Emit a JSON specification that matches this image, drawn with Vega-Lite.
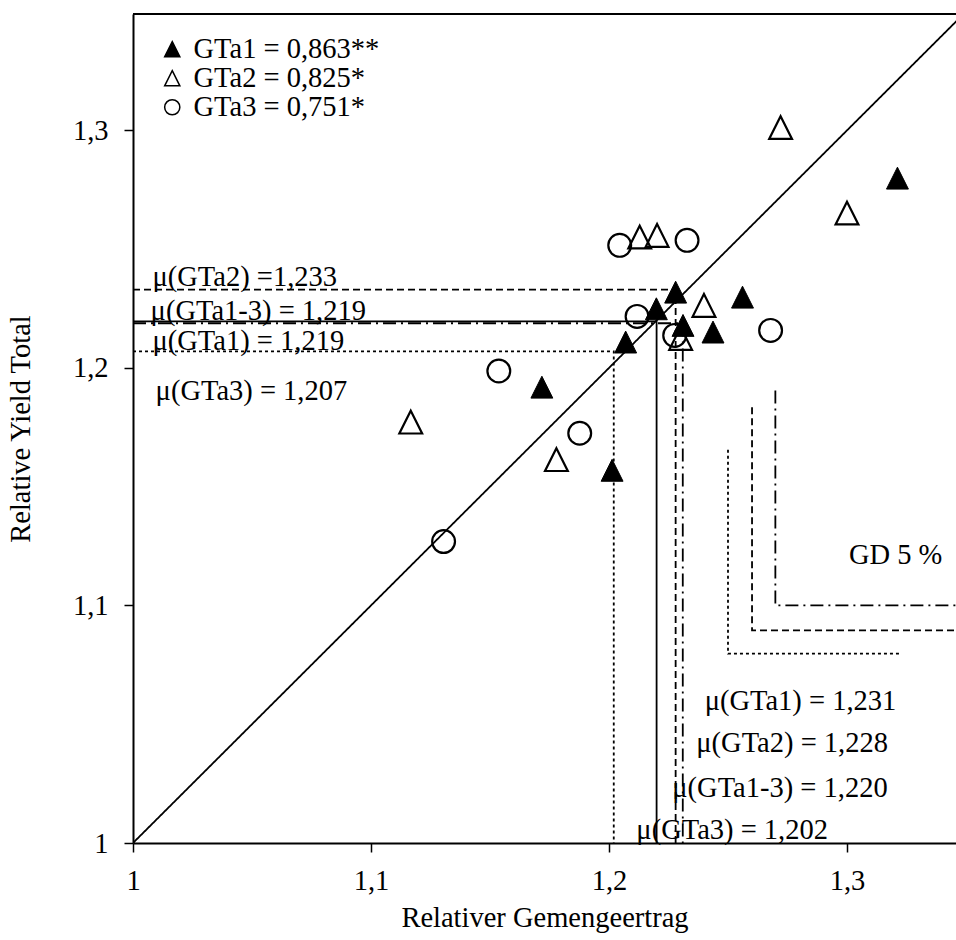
{
  "$schema": "https://vega.github.io/schema/vega-lite/v6.json",
  "width": 823,
  "height": 829,
  "autosize": {"type": "none"},
  "padding": {"left": 133, "top": 14, "right": 0, "bottom": 97},
  "background": "white",
  "config": {
    "view": {"stroke": null},
    "axis": {
      "grid": false,
      "domainColor": "black",
      "domainWidth": 2,
      "tickColor": "black",
      "tickWidth": 1.5,
      "tickSize": 9,
      "labelFont": "Liberation Serif",
      "labelFontSize": 28.5,
      "labelColor": "black",
      "titleFont": "Liberation Serif",
      "titleFontSize": 28.5,
      "titleFontWeight": "normal",
      "titleColor": "black"
    },
    "legend": {
      "orient": "none", "legendX": 25, "legendY": 21, "title": null,
      "labelFont": "Liberation Serif", "labelFontSize": 28.5, "labelColor": "black", "labelLimit": 0,
      "symbolSize": 230, "symbolStrokeWidth": 1.5, "symbolOpacity": 1,
      "rowPadding": -1.5, "labelOffset": 7, "padding": 0
    },
    "text": {"font": "Liberation Serif", "fontSize": 28.5, "color": "black"}
  },
  "datasets": {
    "points": [
      {"group": "GTa1", "x": 1.1718, "y": 1.1919},
      {"group": "GTa1", "x": 1.2013, "y": 1.1569},
      {"group": "GTa1", "x": 1.2070, "y": 1.2109},
      {"group": "GTa1", "x": 1.2199, "y": 1.2249},
      {"group": "GTa1", "x": 1.2280, "y": 1.2319},
      {"group": "GTa1", "x": 1.2311, "y": 1.2179},
      {"group": "GTa1", "x": 1.2437, "y": 1.2151},
      {"group": "GTa1", "x": 1.2561, "y": 1.2298},
      {"group": "GTa1", "x": 1.3212, "y": 1.2799},
      {"group": "GTa2", "x": 1.1167, "y": 1.1772},
      {"group": "GTa2", "x": 1.1779, "y": 1.1614},
      {"group": "GTa2", "x": 1.2129, "y": 1.2551},
      {"group": "GTa2", "x": 1.2202, "y": 1.2558},
      {"group": "GTa2", "x": 1.2399, "y": 1.2263},
      {"group": "GTa2", "x": 1.2301, "y": 1.2124},
      {"group": "GTa2", "x": 1.2721, "y": 1.3012},
      {"group": "GTa2", "x": 1.3000, "y": 1.2652},
      {"group": "GTa3", "x": 1.1305, "y": 1.1269},
      {"group": "GTa3", "x": 1.1537, "y": 1.1987},
      {"group": "GTa3", "x": 1.1877, "y": 1.1725},
      {"group": "GTa3", "x": 1.2045, "y": 1.2516},
      {"group": "GTa3", "x": 1.2118, "y": 1.2217},
      {"group": "GTa3", "x": 1.2276, "y": 1.2137},
      {"group": "GTa3", "x": 1.2328, "y": 1.2537},
      {"group": "GTa3", "x": 1.2679, "y": 1.2158}
    ],
    "lines": [
      {"id": "mean GTa1", "style": "dashdot", "o": 1, "x": 1, "y": 1.2188},
      {"id": "mean GTa1", "style": "dashdot", "o": 2, "x": 1.231, "y": 1.2188},
      {"id": "mean GTa1", "style": "dashdot", "o": 3, "x": 1.231, "y": 1},
      {"id": "mean GTa2", "style": "dashed", "o": 1, "x": 1, "y": 1.233},
      {"id": "mean GTa2", "style": "dashed", "o": 2, "x": 1.228, "y": 1.233},
      {"id": "mean GTa2", "style": "dashed", "o": 3, "x": 1.228, "y": 1},
      {"id": "mean GTa3", "style": "dotted", "o": 1, "x": 1, "y": 1.207},
      {"id": "mean GTa3", "style": "dotted", "o": 2, "x": 1.202, "y": 1.207},
      {"id": "mean GTa3", "style": "dotted", "o": 3, "x": 1.202, "y": 1},
      {"id": "mean GTa1-3", "style": "solid", "o": 1, "x": 1, "y": 1.2196},
      {"id": "mean GTa1-3", "style": "solid", "o": 2, "x": 1.220, "y": 1.2196},
      {"id": "mean GTa1-3", "style": "solid", "o": 3, "x": 1.220, "y": 1},
      {"id": "GD GTa3", "style": "dotted", "o": 1, "x": 1.25, "y": 1.1656},
      {"id": "GD GTa3", "style": "dotted", "o": 2, "x": 1.25, "y": 1.0797},
      {"id": "GD GTa3", "style": "dotted", "o": 3, "x": 1.3229, "y": 1.0797},
      {"id": "GD GTa2", "style": "dashed", "o": 1, "x": 1.2601, "y": 1.1834},
      {"id": "GD GTa2", "style": "dashed", "o": 2, "x": 1.2601, "y": 1.0895},
      {"id": "GD GTa2", "style": "dashed", "o": 3, "x": 1.36, "y": 1.0895},
      {"id": "GD GTa1", "style": "dashdot", "o": 1, "x": 1.2699, "y": 1.1905},
      {"id": "GD GTa1", "style": "dashdot", "o": 2, "x": 1.2699, "y": 1.1},
      {"id": "GD GTa1", "style": "dashdot", "o": 3, "x": 1.36, "y": 1.1},
      {"id": "1:1", "style": "solid", "o": 1, "x": 1, "y": 1},
      {"id": "1:1", "style": "solid", "o": 2, "x": 1.36, "y": 1.36}
    ],
    "notes": [
      {"label": "μ(GTa2) =1,233", "x": 1.0082, "y": 1.2347},
      {"label": "μ(GTa1-3) = 1,219", "x": 1.0074, "y": 1.2200},
      {"label": "μ(GTa1) = 1,219", "x": 1.0082, "y": 1.2074},
      {"label": "μ(GTa3) = 1,207", "x": 1.0095, "y": 1.1863},
      {"label": "μ(GTa1) = 1,231", "x": 1.2402, "y": 1.0558},
      {"label": "μ(GTa2) = 1,228", "x": 1.2367, "y": 1.0382},
      {"label": "μ(GTa1-3) = 1,220", "x": 1.2266, "y": 1.0193},
      {"label": "μ(GTa3) = 1,202", "x": 1.2115, "y": 1.0018},
      {"label": "GD 5 %", "x": 1.3008, "y": 1.1175}
    ],
    "frame": [{"y": 1.349}]
  },
  "layer": [
    {
      "data": {"name": "points"},
      "transform": [{"filter": "datum.group != 'GTa1'"}],
      "mark": {"type": "point", "size": 520, "strokeWidth": 2.2, "opacity": 1},
      "encoding": {
        "x": {
          "field": "x", "type": "quantitative",
          "scale": {"domain": [1, 1.3458], "nice": false, "zero": false},
          "axis": {
            "title": "Relativer Gemengeertrag",
            "values": [1, 1.1, 1.2, 1.3],
            "labelExpr": "datum.value == 1 ? '1' : replace(format(datum.value, '.1f'), '.', ',')",
            "labelPadding": 14,
            "titlePadding": 9,
            "labelFlush": false,
            "labelOverlap": false
          }
        },
        "y": {
          "field": "y", "type": "quantitative",
          "scale": {"domain": [1, 1.349], "nice": false, "zero": false},
          "axis": {
            "title": "Relative Yield Total",
            "values": [1, 1.1, 1.2, 1.3],
            "labelExpr": "datum.value == 1 ? '1' : replace(format(datum.value, '.1f'), '.', ',')",
            "labelPadding": 16,
            "titlePadding": 37,
            "labelFlush": false,
            "labelOverlap": false
          }
        },
        "shape": {
          "field": "group", "type": "nominal",
          "scale": {"domain": ["GTa1", "GTa2", "GTa3"], "range": ["M0,-1L1,1L-1,1Z", "M0,-1L1,1L-1,1Z", "circle"]},
          "legend": {
            "labelExpr": "datum.label == 'GTa1' ? 'GTa1 = 0,863**' : datum.label == 'GTa2' ? 'GTa2 = 0,825*' : 'GTa3 = 0,751*'"
          }
        },
        "fill": {
          "field": "group", "type": "nominal",
          "scale": {"domain": ["GTa1", "GTa2", "GTa3"], "range": ["black", "transparent", "transparent"]},
          "legend": {
            "labelExpr": "datum.label == 'GTa1' ? 'GTa1 = 0,863**' : datum.label == 'GTa2' ? 'GTa2 = 0,825*' : 'GTa3 = 0,751*'"
          }
        },
        "stroke": {
          "field": "group", "type": "nominal",
          "scale": {"domain": ["GTa1", "GTa2", "GTa3"], "range": ["black", "black", "black"]},
          "legend": {
            "labelExpr": "datum.label == 'GTa1' ? 'GTa1 = 0,863**' : datum.label == 'GTa2' ? 'GTa2 = 0,825*' : 'GTa3 = 0,751*'"
          }
        }
      }
    },
    {
      "data": {"name": "points"},
      "transform": [{"filter": "datum.group == 'GTa1'"}],
      "mark": {"type": "point", "size": 480, "strokeWidth": 1, "opacity": 1},
      "encoding": {
        "x": {"field": "x", "type": "quantitative"},
        "y": {"field": "y", "type": "quantitative"},
        "shape": {"field": "group", "type": "nominal"},
        "fill": {"field": "group", "type": "nominal"},
        "stroke": {"field": "group", "type": "nominal"}
      }
    },
    {
      "data": {"name": "lines"},
      "mark": {"type": "line", "color": "black", "strokeWidth": 1.8, "clip": true},
      "encoding": {
        "x": {"field": "x", "type": "quantitative"},
        "y": {"field": "y", "type": "quantitative"},
        "order": {"field": "o", "type": "quantitative"},
        "detail": {"field": "id", "type": "nominal"},
        "strokeDash": {
          "field": "style", "type": "nominal", "legend": null,
          "scale": {"domain": ["dashdot", "dashed", "dotted", "solid"], "range": [[13, 5, 2, 5], [7, 4], [3, 3], [1, 0]]}
        }
      }
    },
    {
      "data": {"name": "frame"},
      "mark": {"type": "rule", "color": "black", "strokeWidth": 2},
      "encoding": {
        "y": {"field": "y", "type": "quantitative"}
      }
    },
    {
      "data": {"name": "notes"},
      "mark": {"type": "text", "align": "left", "baseline": "alphabetic", "font": "Liberation Serif", "fontSize": 28.5, "color": "black"},
      "encoding": {
        "x": {"field": "x", "type": "quantitative"},
        "y": {"field": "y", "type": "quantitative"},
        "text": {"field": "label", "type": "nominal"}
      }
    }
  ]
}
